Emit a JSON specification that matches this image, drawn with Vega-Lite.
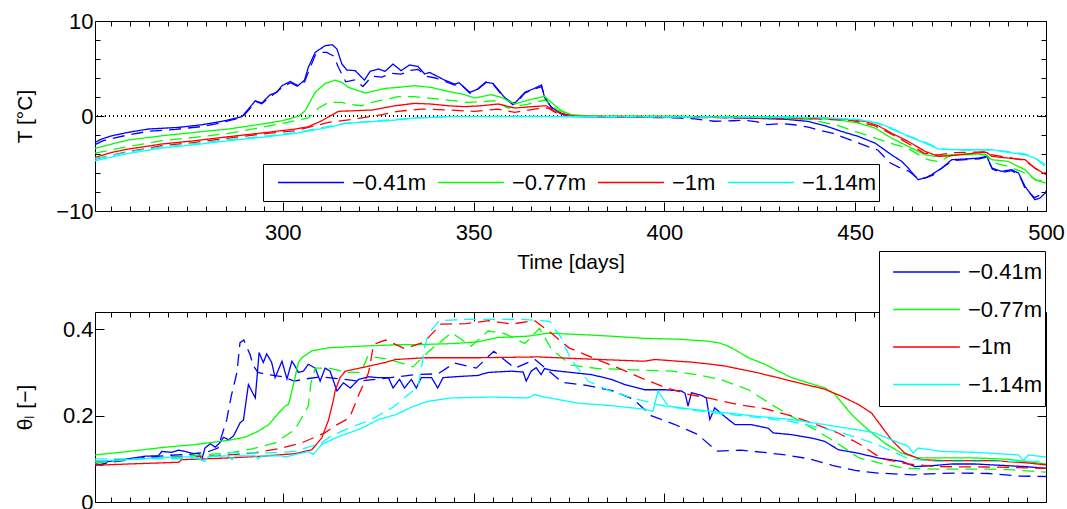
{
  "$schema": "https://vega.github.io/schema/vega-lite/v6.json",
  "background": "white",
  "padding": {"left": 14, "top": 10, "right": 0, "bottom": 0},
  "bounds": "flush",
  "spacing": 101,
  "config": {
    "font": "Liberation Sans",
    "view": {"stroke": null},
    "axis": {
      "grid": false, "domainColor": "#000", "domainWidth": 1, "tickColor": "#000", "tickWidth": 1,
      "labelColor": "#000", "labelFont": "Liberation Sans", "labelFontSize": 22,
      "titleFont": "Liberation Sans", "titleFontSize": 21, "titleFontWeight": "normal", "titleColor": "#000",
      "labelOverlap": false, "labelFlush": false, "labelBound": false
    },
    "legend": {
      "labelFont": "Liberation Sans", "labelFontSize": 22, "labelColor": "#000",
      "strokeColor": "#000", "fillColor": "white", "symbolType": "stroke", "symbolStrokeWidth": 1.3,
      "padding": 3, "labelLimit": 400
    }
  },
  "resolve": {
    "scale": {"color": "independent", "strokeDash": "independent"},
    "legend": {"color": "independent", "strokeDash": "independent"}
  },
  "datasets": {
    "temp": [
      {"day":250.8,"val":-2.78,"depth":"−0.41m","run":"obs"},{"day":252.5,"val":-2.43,"depth":"−0.41m","run":"obs"},{"day":255.2,"val":-2.08,"depth":"−0.41m","run":"obs"},{"day":259.5,"val":-1.72,"depth":"−0.41m","run":"obs"},{"day":264.8,"val":-1.37,"depth":"−0.41m","run":"obs"},{"day":272.7,"val":-1.2,"depth":"−0.41m","run":"obs"},{"day":278.8,"val":-0.92,"depth":"−0.41m","run":"obs"},{"day":284,"val":-0.57,"depth":"−0.41m","run":"obs"},{"day":289.3,"val":-0.07,"depth":"−0.41m","run":"obs"},{"day":291,"val":0.73,"depth":"−0.41m","run":"obs"},{"day":292.8,"val":1.61,"depth":"−0.41m","run":"obs"},{"day":294.5,"val":1.36,"depth":"−0.41m","run":"obs"},{"day":296.7,"val":2.24,"depth":"−0.41m","run":"obs"},{"day":298.4,"val":2.49,"depth":"−0.41m","run":"obs"},{"day":299.8,"val":3.19,"depth":"−0.41m","run":"obs"},{"day":302,"val":3.64,"depth":"−0.41m","run":"obs"},{"day":304,"val":3.19,"depth":"−0.41m","run":"obs"},{"day":305.7,"val":3.78,"depth":"−0.41m","run":"obs"},{"day":306.7,"val":5.12,"depth":"−0.41m","run":"obs"},{"day":308.5,"val":6.7,"depth":"−0.41m","run":"obs"},{"day":311.1,"val":7.4,"depth":"−0.41m","run":"obs"},{"day":313,"val":7.5,"depth":"−0.41m","run":"obs"},{"day":314.2,"val":7.05,"depth":"−0.41m","run":"obs"},{"day":315.5,"val":5.47,"depth":"−0.41m","run":"obs"},{"day":316.8,"val":4.84,"depth":"−0.41m","run":"obs"},{"day":319,"val":4.77,"depth":"−0.41m","run":"obs"},{"day":321.4,"val":3.78,"depth":"−0.41m","run":"obs"},{"day":322.9,"val":4.7,"depth":"−0.41m","run":"obs"},{"day":325.1,"val":4.95,"depth":"−0.41m","run":"obs"},{"day":326.8,"val":4.7,"depth":"−0.41m","run":"obs"},{"day":328.9,"val":5.47,"depth":"−0.41m","run":"obs"},{"day":331,"val":4.77,"depth":"−0.41m","run":"obs"},{"day":333.2,"val":5.37,"depth":"−0.41m","run":"obs"},{"day":335.4,"val":5.22,"depth":"−0.41m","run":"obs"},{"day":337.2,"val":4.42,"depth":"−0.41m","run":"obs"},{"day":338.5,"val":4.59,"depth":"−0.41m","run":"obs"},{"day":342.4,"val":3.78,"depth":"−0.41m","run":"obs"},{"day":345,"val":3.36,"depth":"−0.41m","run":"obs"},{"day":346.2,"val":3.5,"depth":"−0.41m","run":"obs"},{"day":349,"val":2.49,"depth":"−0.41m","run":"obs"},{"day":351.2,"val":2.84,"depth":"−0.41m","run":"obs"},{"day":353.3,"val":3.54,"depth":"−0.41m","run":"obs"},{"day":355.1,"val":3.43,"depth":"−0.41m","run":"obs"},{"day":358.1,"val":1.96,"depth":"−0.41m","run":"obs"},{"day":360.3,"val":1.33,"depth":"−0.41m","run":"obs"},{"day":361.2,"val":1.5,"depth":"−0.41m","run":"obs"},{"day":363.4,"val":2.49,"depth":"−0.41m","run":"obs"},{"day":365.6,"val":2.84,"depth":"−0.41m","run":"obs"},{"day":367.8,"val":3.26,"depth":"−0.41m","run":"obs"},{"day":368.6,"val":1.96,"depth":"−0.41m","run":"obs"},{"day":370.4,"val":0.91,"depth":"−0.41m","run":"obs"},{"day":373,"val":0.28,"depth":"−0.41m","run":"obs"},{"day":375.6,"val":0.03,"depth":"−0.41m","run":"obs"},{"day":380,"val":-0.05,"depth":"−0.41m","run":"obs"},{"day":390,"val":-0.08,"depth":"−0.41m","run":"obs"},{"day":400,"val":-0.1,"depth":"−0.41m","run":"obs"},{"day":407,"val":-0.1,"depth":"−0.41m","run":"obs"},{"day":415,"val":-0.15,"depth":"−0.41m","run":"obs"},{"day":424.6,"val":-0.25,"depth":"−0.41m","run":"obs"},{"day":432,"val":-0.35,"depth":"−0.41m","run":"obs"},{"day":437.7,"val":-0.57,"depth":"−0.41m","run":"obs"},{"day":442.1,"val":-1.02,"depth":"−0.41m","run":"obs"},{"day":446.4,"val":-1.62,"depth":"−0.41m","run":"obs"},{"day":450.8,"val":-2.15,"depth":"−0.41m","run":"obs"},{"day":455.2,"val":-2.85,"depth":"−0.41m","run":"obs"},{"day":459.5,"val":-4.08,"depth":"−0.41m","run":"obs"},{"day":462.2,"val":-4.78,"depth":"−0.41m","run":"obs"},{"day":463.9,"val":-5.48,"depth":"−0.41m","run":"obs"},{"day":466.5,"val":-6.71,"depth":"−0.41m","run":"obs"},{"day":468.3,"val":-6.53,"depth":"−0.41m","run":"obs"},{"day":470,"val":-6.18,"depth":"−0.41m","run":"obs"},{"day":472.7,"val":-5.48,"depth":"−0.41m","run":"obs"},{"day":475.3,"val":-4.6,"depth":"−0.41m","run":"obs"},{"day":478.8,"val":-4.53,"depth":"−0.41m","run":"obs"},{"day":482.3,"val":-4.43,"depth":"−0.41m","run":"obs"},{"day":484.5,"val":-4.25,"depth":"−0.41m","run":"obs"},{"day":485.8,"val":-5.48,"depth":"−0.41m","run":"obs"},{"day":488.4,"val":-5.83,"depth":"−0.41m","run":"obs"},{"day":491,"val":-5.65,"depth":"−0.41m","run":"obs"},{"day":492.8,"val":-6.0,"depth":"−0.41m","run":"obs"},{"day":494.5,"val":-7.41,"depth":"−0.41m","run":"obs"},{"day":497.1,"val":-8.81,"depth":"−0.41m","run":"obs"},{"day":498.4,"val":-8.64,"depth":"−0.41m","run":"obs"},{"day":500,"val":-8.04,"depth":"−0.41m","run":"obs"},

      {"day":250.8,"val":-3.02,"depth":"−0.41m","run":"sim"},{"day":253,"val":-2.6,"depth":"−0.41m","run":"sim"},{"day":256,"val":-2.3,"depth":"−0.41m","run":"sim"},{"day":260,"val":-1.95,"depth":"−0.41m","run":"sim"},{"day":265,"val":-1.6,"depth":"−0.41m","run":"sim"},{"day":272,"val":-1.4,"depth":"−0.41m","run":"sim"},{"day":279,"val":-1.1,"depth":"−0.41m","run":"sim"},{"day":284,"val":-0.7,"depth":"−0.41m","run":"sim"},{"day":289.3,"val":-0.15,"depth":"−0.41m","run":"sim"},{"day":291,"val":0.6,"depth":"−0.41m","run":"sim"},{"day":293,"val":1.5,"depth":"−0.41m","run":"sim"},{"day":294.5,"val":1.3,"depth":"−0.41m","run":"sim"},{"day":297,"val":2.1,"depth":"−0.41m","run":"sim"},{"day":299.8,"val":3.0,"depth":"−0.41m","run":"sim"},{"day":302,"val":3.5,"depth":"−0.41m","run":"sim"},{"day":304,"val":3.1,"depth":"−0.41m","run":"sim"},{"day":305.7,"val":3.6,"depth":"−0.41m","run":"sim"},{"day":307,"val":4.9,"depth":"−0.41m","run":"sim"},{"day":308.5,"val":6.4,"depth":"−0.41m","run":"sim"},{"day":310,"val":6.7,"depth":"−0.41m","run":"sim"},{"day":311.5,"val":6.7,"depth":"−0.41m","run":"sim"},{"day":313.4,"val":6.3,"depth":"−0.41m","run":"sim"},{"day":314.6,"val":5.1,"depth":"−0.41m","run":"sim"},{"day":316.5,"val":3.6,"depth":"−0.41m","run":"sim"},{"day":318.8,"val":3.8,"depth":"−0.41m","run":"sim"},{"day":321,"val":3.1,"depth":"−0.41m","run":"sim"},{"day":323.4,"val":4.2,"depth":"−0.41m","run":"sim"},{"day":326,"val":4.1,"depth":"−0.41m","run":"sim"},{"day":328.5,"val":4.5,"depth":"−0.41m","run":"sim"},{"day":331,"val":4.4,"depth":"−0.41m","run":"sim"},{"day":333.5,"val":4.8,"depth":"−0.41m","run":"sim"},{"day":335.5,"val":4.9,"depth":"−0.41m","run":"sim"},{"day":337.5,"val":4.2,"depth":"−0.41m","run":"sim"},{"day":340,"val":4.0,"depth":"−0.41m","run":"sim"},{"day":342.4,"val":3.65,"depth":"−0.41m","run":"sim"},{"day":345,"val":3.25,"depth":"−0.41m","run":"sim"},{"day":346.5,"val":3.4,"depth":"−0.41m","run":"sim"},{"day":349,"val":2.4,"depth":"−0.41m","run":"sim"},{"day":351.2,"val":2.9,"depth":"−0.41m","run":"sim"},{"day":353.3,"val":3.6,"depth":"−0.41m","run":"sim"},{"day":355.1,"val":3.35,"depth":"−0.41m","run":"sim"},{"day":358.1,"val":1.9,"depth":"−0.41m","run":"sim"},{"day":360.3,"val":1.2,"depth":"−0.41m","run":"sim"},{"day":361.5,"val":1.5,"depth":"−0.41m","run":"sim"},{"day":363.4,"val":2.4,"depth":"−0.41m","run":"sim"},{"day":365.6,"val":2.8,"depth":"−0.41m","run":"sim"},{"day":367.8,"val":3.1,"depth":"−0.41m","run":"sim"},{"day":368.8,"val":1.8,"depth":"−0.41m","run":"sim"},{"day":370.6,"val":0.8,"depth":"−0.41m","run":"sim"},{"day":373,"val":0.2,"depth":"−0.41m","run":"sim"},{"day":376,"val":-0.05,"depth":"−0.41m","run":"sim"},{"day":385,"val":-0.1,"depth":"−0.41m","run":"sim"},{"day":395,"val":-0.15,"depth":"−0.41m","run":"sim"},{"day":403,"val":-0.2,"depth":"−0.41m","run":"sim"},{"day":408,"val":-0.3,"depth":"−0.41m","run":"sim"},{"day":413,"val":-0.55,"depth":"−0.41m","run":"sim"},{"day":418,"val":-0.5,"depth":"−0.41m","run":"sim"},{"day":421,"val":-0.45,"depth":"−0.41m","run":"sim"},{"day":424,"val":-0.6,"depth":"−0.41m","run":"sim"},{"day":427,"val":-0.9,"depth":"−0.41m","run":"sim"},{"day":431,"val":-0.8,"depth":"−0.41m","run":"sim"},{"day":434,"val":-0.92,"depth":"−0.41m","run":"sim"},{"day":438,"val":-1.2,"depth":"−0.41m","run":"sim"},{"day":440.5,"val":-1.5,"depth":"−0.41m","run":"sim"},{"day":444,"val":-1.8,"depth":"−0.41m","run":"sim"},{"day":446.6,"val":-2.2,"depth":"−0.41m","run":"sim"},{"day":450,"val":-2.7,"depth":"−0.41m","run":"sim"},{"day":453.2,"val":-3.2,"depth":"−0.41m","run":"sim"},{"day":456,"val":-3.6,"depth":"−0.41m","run":"sim"},{"day":459,"val":-4.9,"depth":"−0.41m","run":"sim"},{"day":461.5,"val":-5.4,"depth":"−0.41m","run":"sim"},{"day":464,"val":-5.8,"depth":"−0.41m","run":"sim"},{"day":466.5,"val":-6.6,"depth":"−0.41m","run":"sim"},{"day":468.5,"val":-6.5,"depth":"−0.41m","run":"sim"},{"day":470.5,"val":-6.2,"depth":"−0.41m","run":"sim"},{"day":473,"val":-5.4,"depth":"−0.41m","run":"sim"},{"day":475.5,"val":-4.7,"depth":"−0.41m","run":"sim"},{"day":479,"val":-4.6,"depth":"−0.41m","run":"sim"},{"day":482.5,"val":-4.5,"depth":"−0.41m","run":"sim"},{"day":484.5,"val":-4.3,"depth":"−0.41m","run":"sim"},{"day":486,"val":-5.6,"depth":"−0.41m","run":"sim"},{"day":488.5,"val":-5.95,"depth":"−0.41m","run":"sim"},{"day":491,"val":-5.75,"depth":"−0.41m","run":"sim"},{"day":493,"val":-6.2,"depth":"−0.41m","run":"sim"},{"day":494.5,"val":-7.6,"depth":"−0.41m","run":"sim"},{"day":497,"val":-8.6,"depth":"−0.41m","run":"sim"},{"day":498.5,"val":-8.3,"depth":"−0.41m","run":"sim"},{"day":500,"val":-7.9,"depth":"−0.41m","run":"sim"},

      {"day":250.8,"val":-3.41,"depth":"−0.77m","run":"obs"},{"day":255.2,"val":-2.95,"depth":"−0.77m","run":"obs"},{"day":259.5,"val":-2.53,"depth":"−0.77m","run":"obs"},{"day":268.3,"val":-2.08,"depth":"−0.77m","run":"obs"},{"day":277,"val":-1.72,"depth":"−0.77m","run":"obs"},{"day":285.8,"val":-1.37,"depth":"−0.77m","run":"obs"},{"day":294.5,"val":-0.85,"depth":"−0.77m","run":"obs"},{"day":299.8,"val":-0.5,"depth":"−0.77m","run":"obs"},{"day":304.1,"val":-0.04,"depth":"−0.77m","run":"obs"},{"day":305.9,"val":0.56,"depth":"−0.77m","run":"obs"},{"day":308.5,"val":2.49,"depth":"−0.77m","run":"obs"},{"day":311.1,"val":3.43,"depth":"−0.77m","run":"obs"},{"day":313.7,"val":3.78,"depth":"−0.77m","run":"obs"},{"day":315.5,"val":3.54,"depth":"−0.77m","run":"obs"},{"day":317.2,"val":3.01,"depth":"−0.77m","run":"obs"},{"day":319.9,"val":2.66,"depth":"−0.77m","run":"obs"},{"day":321.6,"val":2.42,"depth":"−0.77m","run":"obs"},{"day":324.2,"val":2.66,"depth":"−0.77m","run":"obs"},{"day":326.9,"val":2.91,"depth":"−0.77m","run":"obs"},{"day":330.2,"val":3.01,"depth":"−0.77m","run":"obs"},{"day":334.5,"val":3.19,"depth":"−0.77m","run":"obs"},{"day":338.9,"val":3.01,"depth":"−0.77m","run":"obs"},{"day":343.3,"val":2.59,"depth":"−0.77m","run":"obs"},{"day":347.7,"val":2.24,"depth":"−0.77m","run":"obs"},{"day":350.3,"val":1.89,"depth":"−0.77m","run":"obs"},{"day":354.6,"val":2.24,"depth":"−0.77m","run":"obs"},{"day":357.3,"val":1.96,"depth":"−0.77m","run":"obs"},{"day":360.8,"val":1.26,"depth":"−0.77m","run":"obs"},{"day":364.3,"val":1.68,"depth":"−0.77m","run":"obs"},{"day":368.6,"val":2.07,"depth":"−0.77m","run":"obs"},{"day":370.4,"val":1.43,"depth":"−0.77m","run":"obs"},{"day":373,"val":0.56,"depth":"−0.77m","run":"obs"},{"day":375.6,"val":0.14,"depth":"−0.77m","run":"obs"},{"day":380,"val":0,"depth":"−0.77m","run":"obs"},{"day":400,"val":-0.02,"depth":"−0.77m","run":"obs"},{"day":420,"val":-0.05,"depth":"−0.77m","run":"obs"},{"day":433.3,"val":-0.1,"depth":"−0.77m","run":"obs"},{"day":442,"val":-0.32,"depth":"−0.77m","run":"obs"},{"day":446.4,"val":-0.46,"depth":"−0.77m","run":"obs"},{"day":450.8,"val":-0.74,"depth":"−0.77m","run":"obs"},{"day":455.2,"val":-1.27,"depth":"−0.77m","run":"obs"},{"day":459.5,"val":-2.32,"depth":"−0.77m","run":"obs"},{"day":463.9,"val":-3.2,"depth":"−0.77m","run":"obs"},{"day":468.3,"val":-4.08,"depth":"−0.77m","run":"obs"},{"day":470.9,"val":-4.25,"depth":"−0.77m","run":"obs"},{"day":475.3,"val":-4.08,"depth":"−0.77m","run":"obs"},{"day":481.4,"val":-4.0,"depth":"−0.77m","run":"obs"},{"day":484,"val":-4.08,"depth":"−0.77m","run":"obs"},{"day":485.8,"val":-4.6,"depth":"−0.77m","run":"obs"},{"day":490.1,"val":-4.78,"depth":"−0.77m","run":"obs"},{"day":494.5,"val":-5.65,"depth":"−0.77m","run":"obs"},{"day":497.1,"val":-6.71,"depth":"−0.77m","run":"obs"},{"day":500,"val":-7.06,"depth":"−0.77m","run":"obs"},

      {"day":250.8,"val":-3.9,"depth":"−0.77m","run":"sim"},{"day":259.5,"val":-3.23,"depth":"−0.77m","run":"sim"},{"day":268.3,"val":-2.6,"depth":"−0.77m","run":"sim"},{"day":277,"val":-2.25,"depth":"−0.77m","run":"sim"},{"day":285.8,"val":-1.83,"depth":"−0.77m","run":"sim"},{"day":294.5,"val":-1.2,"depth":"−0.77m","run":"sim"},{"day":303.3,"val":-0.5,"depth":"−0.77m","run":"sim"},{"day":306.7,"val":-0.2,"depth":"−0.77m","run":"sim"},{"day":309.4,"val":0.84,"depth":"−0.77m","run":"sim"},{"day":312,"val":1.43,"depth":"−0.77m","run":"sim"},{"day":315.5,"val":1.43,"depth":"−0.77m","run":"sim"},{"day":317.2,"val":1.26,"depth":"−0.77m","run":"sim"},{"day":320.7,"val":1.08,"depth":"−0.77m","run":"sim"},{"day":323.4,"val":1.43,"depth":"−0.77m","run":"sim"},{"day":328.6,"val":1.89,"depth":"−0.77m","run":"sim"},{"day":330.2,"val":2.03,"depth":"−0.77m","run":"sim"},{"day":334.5,"val":2.03,"depth":"−0.77m","run":"sim"},{"day":343.3,"val":1.68,"depth":"−0.77m","run":"sim"},{"day":348.5,"val":1.43,"depth":"−0.77m","run":"sim"},{"day":352,"val":1.5,"depth":"−0.77m","run":"sim"},{"day":355.5,"val":1.61,"depth":"−0.77m","run":"sim"},{"day":359,"val":0.84,"depth":"−0.77m","run":"sim"},{"day":364.3,"val":1.26,"depth":"−0.77m","run":"sim"},{"day":368.6,"val":1.68,"depth":"−0.77m","run":"sim"},{"day":372,"val":0.63,"depth":"−0.77m","run":"sim"},{"day":375.6,"val":0.1,"depth":"−0.77m","run":"sim"},{"day":380,"val":-0.02,"depth":"−0.77m","run":"sim"},{"day":400,"val":-0.05,"depth":"−0.77m","run":"sim"},{"day":420,"val":-0.1,"depth":"−0.77m","run":"sim"},{"day":438,"val":-0.35,"depth":"−0.77m","run":"sim"},{"day":445.6,"val":-1.02,"depth":"−0.77m","run":"sim"},{"day":452.6,"val":-1.97,"depth":"−0.77m","run":"sim"},{"day":457.8,"val":-2.67,"depth":"−0.77m","run":"sim"},{"day":463.9,"val":-3.44,"depth":"−0.77m","run":"sim"},{"day":469,"val":-4.6,"depth":"−0.77m","run":"sim"},{"day":472,"val":-4.8,"depth":"−0.77m","run":"sim"},{"day":475.3,"val":-4.1,"depth":"−0.77m","run":"sim"},{"day":481.4,"val":-4.05,"depth":"−0.77m","run":"sim"},{"day":484.5,"val":-4.1,"depth":"−0.77m","run":"sim"},{"day":486,"val":-4.9,"depth":"−0.77m","run":"sim"},{"day":490.1,"val":-5.3,"depth":"−0.77m","run":"sim"},{"day":494.5,"val":-6.0,"depth":"−0.77m","run":"sim"},{"day":497.5,"val":-6.75,"depth":"−0.77m","run":"sim"},{"day":500,"val":-6.9,"depth":"−0.77m","run":"sim"},

      {"day":250.8,"val":-4.36,"depth":"−1m","run":"obs"},{"day":255.2,"val":-3.83,"depth":"−1m","run":"obs"},{"day":259.5,"val":-3.48,"depth":"−1m","run":"obs"},{"day":268.3,"val":-2.95,"depth":"−1m","run":"obs"},{"day":277,"val":-2.6,"depth":"−1m","run":"obs"},{"day":285.8,"val":-2.18,"depth":"−1m","run":"obs"},{"day":294.5,"val":-1.79,"depth":"−1m","run":"obs"},{"day":303.3,"val":-1.37,"depth":"−1m","run":"obs"},{"day":306.7,"val":-1.13,"depth":"−1m","run":"obs"},{"day":310.2,"val":-0.5,"depth":"−1m","run":"obs"},{"day":314.6,"val":0.49,"depth":"−1m","run":"obs"},{"day":319,"val":0.56,"depth":"−1m","run":"obs"},{"day":323.4,"val":0.63,"depth":"−1m","run":"obs"},{"day":329.5,"val":1.08,"depth":"−1m","run":"obs"},{"day":334.5,"val":1.33,"depth":"−1m","run":"obs"},{"day":338.9,"val":1.26,"depth":"−1m","run":"obs"},{"day":343.3,"val":1.08,"depth":"−1m","run":"obs"},{"day":347.7,"val":0.98,"depth":"−1m","run":"obs"},{"day":352,"val":1.08,"depth":"−1m","run":"obs"},{"day":356.4,"val":1.26,"depth":"−1m","run":"obs"},{"day":360.8,"val":0.84,"depth":"−1m","run":"obs"},{"day":365.1,"val":0.98,"depth":"−1m","run":"obs"},{"day":369,"val":1.08,"depth":"−1m","run":"obs"},{"day":371.3,"val":0.49,"depth":"−1m","run":"obs"},{"day":374.8,"val":0.07,"depth":"−1m","run":"obs"},{"day":378.3,"val":-0.04,"depth":"−1m","run":"obs"},{"day":400,"val":-0.1,"depth":"−1m","run":"obs"},{"day":420,"val":-0.15,"depth":"−1m","run":"obs"},{"day":442,"val":-0.21,"depth":"−1m","run":"obs"},{"day":449,"val":-0.39,"depth":"−1m","run":"obs"},{"day":452.6,"val":-0.57,"depth":"−1m","run":"obs"},{"day":456,"val":-1.02,"depth":"−1m","run":"obs"},{"day":459.5,"val":-1.8,"depth":"−1m","run":"obs"},{"day":463.9,"val":-2.67,"depth":"−1m","run":"obs"},{"day":468.3,"val":-3.72,"depth":"−1m","run":"obs"},{"day":471.8,"val":-4.25,"depth":"−1m","run":"obs"},{"day":475.3,"val":-4.18,"depth":"−1m","run":"obs"},{"day":481.4,"val":-3.9,"depth":"−1m","run":"obs"},{"day":484.5,"val":-3.83,"depth":"−1m","run":"obs"},{"day":485.8,"val":-4.25,"depth":"−1m","run":"obs"},{"day":490.1,"val":-4.43,"depth":"−1m","run":"obs"},{"day":494.5,"val":-4.6,"depth":"−1m","run":"obs"},{"day":497.1,"val":-5.48,"depth":"−1m","run":"obs"},{"day":500,"val":-6.18,"depth":"−1m","run":"obs"},

      {"day":250.8,"val":-4.53,"depth":"−1m","run":"sim"},{"day":259.5,"val":-3.73,"depth":"−1m","run":"sim"},{"day":268.3,"val":-3.13,"depth":"−1m","run":"sim"},{"day":277,"val":-2.78,"depth":"−1m","run":"sim"},{"day":285.8,"val":-2.32,"depth":"−1m","run":"sim"},{"day":294.5,"val":-1.9,"depth":"−1m","run":"sim"},{"day":303.3,"val":-1.55,"depth":"−1m","run":"sim"},{"day":312,"val":-0.67,"depth":"−1m","run":"sim"},{"day":319,"val":-0.32,"depth":"−1m","run":"sim"},{"day":326,"val":0.14,"depth":"−1m","run":"sim"},{"day":330.2,"val":0.49,"depth":"−1m","run":"sim"},{"day":336.3,"val":0.73,"depth":"−1m","run":"sim"},{"day":343.3,"val":0.63,"depth":"−1m","run":"sim"},{"day":350.3,"val":0.49,"depth":"−1m","run":"sim"},{"day":356.4,"val":0.73,"depth":"−1m","run":"sim"},{"day":360.8,"val":0.38,"depth":"−1m","run":"sim"},{"day":366,"val":0.73,"depth":"−1m","run":"sim"},{"day":369.5,"val":0.84,"depth":"−1m","run":"sim"},{"day":372.1,"val":0.21,"depth":"−1m","run":"sim"},{"day":375.6,"val":-0.07,"depth":"−1m","run":"sim"},{"day":400,"val":-0.12,"depth":"−1m","run":"sim"},{"day":440,"val":-0.3,"depth":"−1m","run":"sim"},{"day":449,"val":-0.45,"depth":"−1m","run":"sim"},{"day":455,"val":-1.0,"depth":"−1m","run":"sim"},{"day":459,"val":-1.8,"depth":"−1m","run":"sim"},{"day":463.5,"val":-2.8,"depth":"−1m","run":"sim"},{"day":468,"val":-3.9,"depth":"−1m","run":"sim"},{"day":471.8,"val":-4.1,"depth":"−1m","run":"sim"},{"day":476,"val":-3.85,"depth":"−1m","run":"sim"},{"day":482,"val":-3.8,"depth":"−1m","run":"sim"},{"day":484.5,"val":-3.75,"depth":"−1m","run":"sim"},{"day":486,"val":-4.1,"depth":"−1m","run":"sim"},{"day":490,"val":-4.35,"depth":"−1m","run":"sim"},{"day":494.5,"val":-4.7,"depth":"−1m","run":"sim"},{"day":497.5,"val":-5.6,"depth":"−1m","run":"sim"},{"day":500,"val":-6.0,"depth":"−1m","run":"sim"},

      {"day":250.8,"val":-4.71,"depth":"−1.14m","run":"obs"},{"day":259.5,"val":-3.94,"depth":"−1.14m","run":"obs"},{"day":268.3,"val":-3.37,"depth":"−1.14m","run":"obs"},{"day":277,"val":-3.02,"depth":"−1.14m","run":"obs"},{"day":285.8,"val":-2.6,"depth":"−1.14m","run":"obs"},{"day":294.5,"val":-2.25,"depth":"−1.14m","run":"obs"},{"day":303.3,"val":-1.83,"depth":"−1.14m","run":"obs"},{"day":312,"val":-1.2,"depth":"−1.14m","run":"obs"},{"day":316.4,"val":-0.78,"depth":"−1.14m","run":"obs"},{"day":320.7,"val":-0.67,"depth":"−1.14m","run":"obs"},{"day":329.5,"val":-0.43,"depth":"−1.14m","run":"obs"},{"day":334.5,"val":-0.22,"depth":"−1.14m","run":"obs"},{"day":343.3,"val":-0.07,"depth":"−1.14m","run":"obs"},{"day":360,"val":-0.07,"depth":"−1.14m","run":"obs"},{"day":380,"val":-0.08,"depth":"−1.14m","run":"obs"},{"day":400,"val":-0.1,"depth":"−1.14m","run":"obs"},{"day":420,"val":-0.12,"depth":"−1.14m","run":"obs"},{"day":440,"val":-0.18,"depth":"−1.14m","run":"obs"},{"day":450.8,"val":-0.39,"depth":"−1.14m","run":"obs"},{"day":456,"val":-0.74,"depth":"−1.14m","run":"obs"},{"day":459.5,"val":-1.27,"depth":"−1.14m","run":"obs"},{"day":463.9,"val":-2.15,"depth":"−1.14m","run":"obs"},{"day":468.3,"val":-2.85,"depth":"−1.14m","run":"obs"},{"day":471.8,"val":-3.48,"depth":"−1.14m","run":"obs"},{"day":477,"val":-3.55,"depth":"−1.14m","run":"obs"},{"day":485.8,"val":-3.55,"depth":"−1.14m","run":"obs"},{"day":490.1,"val":-3.83,"depth":"−1.14m","run":"obs"},{"day":494.5,"val":-4.08,"depth":"−1.14m","run":"obs"},{"day":497.1,"val":-4.43,"depth":"−1.14m","run":"obs"},{"day":500,"val":-5.13,"depth":"−1.14m","run":"obs"},

      {"day":250.8,"val":-4.5,"depth":"−1.14m","run":"sim"},{"day":259.5,"val":-3.8,"depth":"−1.14m","run":"sim"},{"day":268.3,"val":-3.25,"depth":"−1.14m","run":"sim"},{"day":277,"val":-2.9,"depth":"−1.14m","run":"sim"},{"day":285.8,"val":-2.5,"depth":"−1.14m","run":"sim"},{"day":294.5,"val":-2.15,"depth":"−1.14m","run":"sim"},{"day":303.3,"val":-1.75,"depth":"−1.14m","run":"sim"},{"day":312,"val":-1.1,"depth":"−1.14m","run":"sim"},{"day":316.4,"val":-0.75,"depth":"−1.14m","run":"sim"},{"day":325,"val":-0.5,"depth":"−1.14m","run":"sim"},{"day":335,"val":-0.2,"depth":"−1.14m","run":"sim"},{"day":345,"val":-0.05,"depth":"−1.14m","run":"sim"},{"day":360,"val":-0.02,"depth":"−1.14m","run":"sim"},{"day":380,"val":-0.05,"depth":"−1.14m","run":"sim"},{"day":400,"val":-0.08,"depth":"−1.14m","run":"sim"},{"day":420,"val":-0.1,"depth":"−1.14m","run":"sim"},{"day":440,"val":-0.15,"depth":"−1.14m","run":"sim"},{"day":450.8,"val":-0.35,"depth":"−1.14m","run":"sim"},{"day":456,"val":-0.8,"depth":"−1.14m","run":"sim"},{"day":460,"val":-1.45,"depth":"−1.14m","run":"sim"},{"day":464,"val":-2.1,"depth":"−1.14m","run":"sim"},{"day":468.3,"val":-2.75,"depth":"−1.14m","run":"sim"},{"day":472,"val":-3.45,"depth":"−1.14m","run":"sim"},{"day":477,"val":-3.6,"depth":"−1.14m","run":"sim"},{"day":485.8,"val":-3.55,"depth":"−1.14m","run":"sim"},{"day":490.1,"val":-3.75,"depth":"−1.14m","run":"sim"},{"day":494.5,"val":-4.0,"depth":"−1.14m","run":"sim"},{"day":497.5,"val":-4.5,"depth":"−1.14m","run":"sim"},{"day":500,"val":-5.4,"depth":"−1.14m","run":"sim"}
    ],
    "theta": [
      {"day":250.8,"val":0.09,"depth":"−0.41m","run":"obs"},{"day":252.5,"val":0.085,"depth":"−0.41m","run":"obs"},{"day":254.3,"val":0.094,"depth":"−0.41m","run":"obs"},{"day":259.5,"val":0.1,"depth":"−0.41m","run":"obs"},{"day":263.9,"val":0.106,"depth":"−0.41m","run":"obs"},{"day":267.4,"val":0.107,"depth":"−0.41m","run":"obs"},{"day":268.3,"val":0.117,"depth":"−0.41m","run":"obs"},{"day":270.9,"val":0.115,"depth":"−0.41m","run":"obs"},{"day":272.7,"val":0.12,"depth":"−0.41m","run":"obs"},{"day":274.4,"val":0.117,"depth":"−0.41m","run":"obs"},{"day":276.6,"val":0.112,"depth":"−0.41m","run":"obs"},{"day":277.9,"val":0.113,"depth":"−0.41m","run":"obs"},{"day":278.8,"val":0.098,"depth":"−0.41m","run":"obs"},{"day":279.6,"val":0.125,"depth":"−0.41m","run":"obs"},{"day":281,"val":0.135,"depth":"−0.41m","run":"obs"},{"day":282.3,"val":0.127,"depth":"−0.41m","run":"obs"},{"day":283.6,"val":0.138,"depth":"−0.41m","run":"obs"},{"day":284.5,"val":0.15,"depth":"−0.41m","run":"obs"},{"day":285.8,"val":0.144,"depth":"−0.41m","run":"obs"},{"day":287.1,"val":0.153,"depth":"−0.41m","run":"obs"},{"day":288.8,"val":0.183,"depth":"−0.41m","run":"obs"},{"day":289.7,"val":0.19,"depth":"−0.41m","run":"obs"},{"day":291,"val":0.272,"depth":"−0.41m","run":"obs"},{"day":292.8,"val":0.241,"depth":"−0.41m","run":"obs"},{"day":293.8,"val":0.346,"depth":"−0.41m","run":"obs"},{"day":294.9,"val":0.323,"depth":"−0.41m","run":"obs"},{"day":295.8,"val":0.343,"depth":"−0.41m","run":"obs"},{"day":297.1,"val":0.323,"depth":"−0.41m","run":"obs"},{"day":298,"val":0.288,"depth":"−0.41m","run":"obs"},{"day":299.8,"val":0.326,"depth":"−0.41m","run":"obs"},{"day":301.1,"val":0.285,"depth":"−0.41m","run":"obs"},{"day":302.4,"val":0.326,"depth":"−0.41m","run":"obs"},{"day":303.2,"val":0.315,"depth":"−0.41m","run":"obs"},{"day":304.1,"val":0.3,"depth":"−0.41m","run":"obs"},{"day":305.4,"val":0.303,"depth":"−0.41m","run":"obs"},{"day":306.7,"val":0.319,"depth":"−0.41m","run":"obs"},{"day":308.5,"val":0.31,"depth":"−0.41m","run":"obs"},{"day":309.8,"val":0.28,"depth":"−0.41m","run":"obs"},{"day":311.1,"val":0.31,"depth":"−0.41m","run":"obs"},{"day":312.4,"val":0.303,"depth":"−0.41m","run":"obs"},{"day":313.3,"val":0.28,"depth":"−0.41m","run":"obs"},{"day":314.2,"val":0.257,"depth":"−0.41m","run":"obs"},{"day":315.9,"val":0.276,"depth":"−0.41m","run":"obs"},{"day":317.7,"val":0.264,"depth":"−0.41m","run":"obs"},{"day":319.9,"val":0.284,"depth":"−0.41m","run":"obs"},{"day":322.5,"val":0.29,"depth":"−0.41m","run":"obs"},{"day":325.1,"val":0.288,"depth":"−0.41m","run":"obs"},{"day":327.7,"val":0.288,"depth":"−0.41m","run":"obs"},{"day":328.9,"val":0.264,"depth":"−0.41m","run":"obs"},{"day":330.6,"val":0.284,"depth":"−0.41m","run":"obs"},{"day":331.9,"val":0.264,"depth":"−0.41m","run":"obs"},{"day":333.7,"val":0.284,"depth":"−0.41m","run":"obs"},{"day":335,"val":0.264,"depth":"−0.41m","run":"obs"},{"day":336.3,"val":0.288,"depth":"−0.41m","run":"obs"},{"day":339,"val":0.288,"depth":"−0.41m","run":"obs"},{"day":340.6,"val":0.264,"depth":"−0.41m","run":"obs"},{"day":342,"val":0.288,"depth":"−0.41m","run":"obs"},{"day":346.8,"val":0.291,"depth":"−0.41m","run":"obs"},{"day":351.1,"val":0.293,"depth":"−0.41m","run":"obs"},{"day":353.8,"val":0.3,"depth":"−0.41m","run":"obs"},{"day":359.9,"val":0.303,"depth":"−0.41m","run":"obs"},{"day":363,"val":0.301,"depth":"−0.41m","run":"obs"},{"day":363.8,"val":0.28,"depth":"−0.41m","run":"obs"},{"day":365.1,"val":0.303,"depth":"−0.41m","run":"obs"},{"day":366.4,"val":0.311,"depth":"−0.41m","run":"obs"},{"day":367.7,"val":0.295,"depth":"−0.41m","run":"obs"},{"day":368.6,"val":0.309,"depth":"−0.41m","run":"obs"},{"day":370.4,"val":0.305,"depth":"−0.41m","run":"obs"},{"day":375.6,"val":0.3,"depth":"−0.41m","run":"obs"},{"day":380.9,"val":0.295,"depth":"−0.41m","run":"obs"},{"day":386.1,"val":0.284,"depth":"−0.41m","run":"obs"},{"day":389.6,"val":0.272,"depth":"−0.41m","run":"obs"},{"day":394.8,"val":0.26,"depth":"−0.41m","run":"obs"},{"day":400.1,"val":0.26,"depth":"−0.41m","run":"obs"},{"day":404.5,"val":0.257,"depth":"−0.41m","run":"obs"},{"day":405.4,"val":0.252,"depth":"−0.41m","run":"obs"},{"day":406.2,"val":0.222,"depth":"−0.41m","run":"obs"},{"day":407.1,"val":0.253,"depth":"−0.41m","run":"obs"},{"day":409.7,"val":0.247,"depth":"−0.41m","run":"obs"},{"day":411,"val":0.241,"depth":"−0.41m","run":"obs"},{"day":411.9,"val":0.191,"depth":"−0.41m","run":"obs"},{"day":413.2,"val":0.218,"depth":"−0.41m","run":"obs"},{"day":415.8,"val":0.198,"depth":"−0.41m","run":"obs"},{"day":418.5,"val":0.179,"depth":"−0.41m","run":"obs"},{"day":422.8,"val":0.179,"depth":"−0.41m","run":"obs"},{"day":427.2,"val":0.171,"depth":"−0.41m","run":"obs"},{"day":428.5,"val":0.16,"depth":"−0.41m","run":"obs"},{"day":433.3,"val":0.156,"depth":"−0.41m","run":"obs"},{"day":438.6,"val":0.148,"depth":"−0.41m","run":"obs"},{"day":442.1,"val":0.14,"depth":"−0.41m","run":"obs"},{"day":445.6,"val":0.121,"depth":"−0.41m","run":"obs"},{"day":450.8,"val":0.113,"depth":"−0.41m","run":"obs"},{"day":456,"val":0.102,"depth":"−0.41m","run":"obs"},{"day":462.2,"val":0.094,"depth":"−0.41m","run":"obs"},{"day":465.7,"val":0.082,"depth":"−0.41m","run":"obs"},{"day":470,"val":0.084,"depth":"−0.41m","run":"obs"},{"day":475.3,"val":0.088,"depth":"−0.41m","run":"obs"},{"day":481.4,"val":0.088,"depth":"−0.41m","run":"obs"},{"day":485.8,"val":0.086,"depth":"−0.41m","run":"obs"},{"day":490.1,"val":0.084,"depth":"−0.41m","run":"obs"},{"day":494.5,"val":0.082,"depth":"−0.41m","run":"obs"},{"day":500,"val":0.078,"depth":"−0.41m","run":"obs"},

      {"day":250.8,"val":0.085,"depth":"−0.41m","run":"sim"},{"day":255,"val":0.092,"depth":"−0.41m","run":"sim"},{"day":260,"val":0.098,"depth":"−0.41m","run":"sim"},{"day":265,"val":0.104,"depth":"−0.41m","run":"sim"},{"day":270,"val":0.108,"depth":"−0.41m","run":"sim"},{"day":275,"val":0.11,"depth":"−0.41m","run":"sim"},{"day":280,"val":0.115,"depth":"−0.41m","run":"sim"},{"day":283,"val":0.125,"depth":"−0.41m","run":"sim"},{"day":285.3,"val":0.19,"depth":"−0.41m","run":"sim"},{"day":286.5,"val":0.245,"depth":"−0.41m","run":"sim"},{"day":288,"val":0.3,"depth":"−0.41m","run":"sim"},{"day":288.8,"val":0.369,"depth":"−0.41m","run":"sim"},{"day":289.8,"val":0.375,"depth":"−0.41m","run":"sim"},{"day":291.4,"val":0.342,"depth":"−0.41m","run":"sim"},{"day":292.3,"val":0.315,"depth":"−0.41m","run":"sim"},{"day":293.5,"val":0.3,"depth":"−0.41m","run":"sim"},{"day":296,"val":0.295,"depth":"−0.41m","run":"sim"},{"day":300,"val":0.29,"depth":"−0.41m","run":"sim"},{"day":303,"val":0.28,"depth":"−0.41m","run":"sim"},{"day":306,"val":0.285,"depth":"−0.41m","run":"sim"},{"day":310,"val":0.29,"depth":"−0.41m","run":"sim"},{"day":315,"val":0.285,"depth":"−0.41m","run":"sim"},{"day":320,"val":0.28,"depth":"−0.41m","run":"sim"},{"day":325.4,"val":0.285,"depth":"−0.41m","run":"sim"},{"day":330,"val":0.29,"depth":"−0.41m","run":"sim"},{"day":335,"val":0.295,"depth":"−0.41m","run":"sim"},{"day":340.7,"val":0.297,"depth":"−0.41m","run":"sim"},{"day":345,"val":0.322,"depth":"−0.41m","run":"sim"},{"day":350.7,"val":0.31,"depth":"−0.41m","run":"sim"},{"day":355.3,"val":0.349,"depth":"−0.41m","run":"sim"},{"day":360.8,"val":0.31,"depth":"−0.41m","run":"sim"},{"day":366.1,"val":0.33,"depth":"−0.41m","run":"sim"},{"day":373.3,"val":0.277,"depth":"−0.41m","run":"sim"},{"day":379.6,"val":0.27,"depth":"−0.41m","run":"sim"},{"day":386.3,"val":0.258,"depth":"−0.41m","run":"sim"},{"day":391.9,"val":0.238,"depth":"−0.41m","run":"sim"},{"day":396.5,"val":0.2,"depth":"−0.41m","run":"sim"},{"day":402.6,"val":0.18,"depth":"−0.41m","run":"sim"},{"day":408.6,"val":0.157,"depth":"−0.41m","run":"sim"},{"day":413.8,"val":0.118,"depth":"−0.41m","run":"sim"},{"day":420,"val":0.12,"depth":"−0.41m","run":"sim"},{"day":426,"val":0.115,"depth":"−0.41m","run":"sim"},{"day":431.7,"val":0.109,"depth":"−0.41m","run":"sim"},{"day":438,"val":0.1,"depth":"−0.41m","run":"sim"},{"day":444,"val":0.085,"depth":"−0.41m","run":"sim"},{"day":450,"val":0.073,"depth":"−0.41m","run":"sim"},{"day":456,"val":0.067,"depth":"−0.41m","run":"sim"},{"day":465,"val":0.063,"depth":"−0.41m","run":"sim"},{"day":471.5,"val":0.066,"depth":"−0.41m","run":"sim"},{"day":478,"val":0.067,"depth":"−0.41m","run":"sim"},{"day":485,"val":0.066,"depth":"−0.41m","run":"sim"},{"day":493,"val":0.06,"depth":"−0.41m","run":"sim"},{"day":500,"val":0.059,"depth":"−0.41m","run":"sim"},

      {"day":250.8,"val":0.109,"depth":"−0.77m","run":"obs"},{"day":259.5,"val":0.117,"depth":"−0.77m","run":"obs"},{"day":268.3,"val":0.126,"depth":"−0.77m","run":"obs"},{"day":277,"val":0.133,"depth":"−0.77m","run":"obs"},{"day":285.8,"val":0.143,"depth":"−0.77m","run":"obs"},{"day":290.1,"val":0.15,"depth":"−0.77m","run":"obs"},{"day":293.6,"val":0.164,"depth":"−0.77m","run":"obs"},{"day":296.3,"val":0.179,"depth":"−0.77m","run":"obs"},{"day":298.9,"val":0.206,"depth":"−0.77m","run":"obs"},{"day":300.6,"val":0.222,"depth":"−0.77m","run":"obs"},{"day":301.5,"val":0.226,"depth":"−0.77m","run":"obs"},{"day":302.4,"val":0.257,"depth":"−0.77m","run":"obs"},{"day":303.2,"val":0.288,"depth":"−0.77m","run":"obs"},{"day":304.1,"val":0.323,"depth":"−0.77m","run":"obs"},{"day":305,"val":0.334,"depth":"−0.77m","run":"obs"},{"day":307.6,"val":0.35,"depth":"−0.77m","run":"obs"},{"day":312,"val":0.357,"depth":"−0.77m","run":"obs"},{"day":320.7,"val":0.361,"depth":"−0.77m","run":"obs"},{"day":329.5,"val":0.364,"depth":"−0.77m","run":"obs"},{"day":337.3,"val":0.365,"depth":"−0.77m","run":"obs"},{"day":345,"val":0.367,"depth":"−0.77m","run":"obs"},{"day":351.1,"val":0.371,"depth":"−0.77m","run":"obs"},{"day":356.4,"val":0.381,"depth":"−0.77m","run":"obs"},{"day":364.2,"val":0.384,"depth":"−0.77m","run":"obs"},{"day":369.5,"val":0.391,"depth":"−0.77m","run":"obs"},{"day":377.4,"val":0.388,"depth":"−0.77m","run":"obs"},{"day":386.1,"val":0.384,"depth":"−0.77m","run":"obs"},{"day":394.8,"val":0.379,"depth":"−0.77m","run":"obs"},{"day":403.6,"val":0.377,"depth":"−0.77m","run":"obs"},{"day":410.6,"val":0.373,"depth":"−0.77m","run":"obs"},{"day":414.1,"val":0.369,"depth":"−0.77m","run":"obs"},{"day":416.7,"val":0.361,"depth":"−0.77m","run":"obs"},{"day":419,"val":0.35,"depth":"−0.77m","run":"obs"},{"day":422,"val":0.334,"depth":"−0.77m","run":"obs"},{"day":426.3,"val":0.319,"depth":"−0.77m","run":"obs"},{"day":433.3,"val":0.288,"depth":"−0.77m","run":"obs"},{"day":437.7,"val":0.276,"depth":"−0.77m","run":"obs"},{"day":442.1,"val":0.264,"depth":"−0.77m","run":"obs"},{"day":444.7,"val":0.249,"depth":"−0.77m","run":"obs"},{"day":449.1,"val":0.202,"depth":"−0.77m","run":"obs"},{"day":453.4,"val":0.167,"depth":"−0.77m","run":"obs"},{"day":457.8,"val":0.136,"depth":"−0.77m","run":"obs"},{"day":462.2,"val":0.113,"depth":"−0.77m","run":"obs"},{"day":466.5,"val":0.102,"depth":"−0.77m","run":"obs"},{"day":472.7,"val":0.102,"depth":"−0.77m","run":"obs"},{"day":481.4,"val":0.102,"depth":"−0.77m","run":"obs"},{"day":490.1,"val":0.099,"depth":"−0.77m","run":"obs"},{"day":494.5,"val":0.094,"depth":"−0.77m","run":"obs"},{"day":500,"val":0.088,"depth":"−0.77m","run":"obs"},

      {"day":250.8,"val":0.09,"depth":"−0.77m","run":"sim"},{"day":259.5,"val":0.098,"depth":"−0.77m","run":"sim"},{"day":272.7,"val":0.106,"depth":"−0.77m","run":"sim"},{"day":285.8,"val":0.113,"depth":"−0.77m","run":"sim"},{"day":291.9,"val":0.123,"depth":"−0.77m","run":"sim"},{"day":298,"val":0.137,"depth":"−0.77m","run":"sim"},{"day":303.2,"val":0.168,"depth":"−0.77m","run":"sim"},{"day":306.7,"val":0.222,"depth":"−0.77m","run":"sim"},{"day":307.4,"val":0.276,"depth":"−0.77m","run":"sim"},{"day":308.5,"val":0.31,"depth":"−0.77m","run":"sim"},{"day":312,"val":0.31,"depth":"−0.77m","run":"sim"},{"day":317.2,"val":0.3,"depth":"−0.77m","run":"sim"},{"day":320.5,"val":0.3,"depth":"−0.77m","run":"sim"},{"day":322.3,"val":0.338,"depth":"−0.77m","run":"sim"},{"day":328,"val":0.33,"depth":"−0.77m","run":"sim"},{"day":334.1,"val":0.313,"depth":"−0.77m","run":"sim"},{"day":338,"val":0.347,"depth":"−0.77m","run":"sim"},{"day":344.2,"val":0.392,"depth":"−0.77m","run":"sim"},{"day":349.4,"val":0.361,"depth":"−0.77m","run":"sim"},{"day":353.8,"val":0.396,"depth":"−0.77m","run":"sim"},{"day":358.1,"val":0.39,"depth":"−0.77m","run":"sim"},{"day":363.4,"val":0.367,"depth":"−0.77m","run":"sim"},{"day":367.3,"val":0.402,"depth":"−0.77m","run":"sim"},{"day":370.4,"val":0.354,"depth":"−0.77m","run":"sim"},{"day":375.6,"val":0.317,"depth":"−0.77m","run":"sim"},{"day":382.6,"val":0.309,"depth":"−0.77m","run":"sim"},{"day":388.7,"val":0.307,"depth":"−0.77m","run":"sim"},{"day":395.3,"val":0.305,"depth":"−0.77m","run":"sim"},{"day":402,"val":0.303,"depth":"−0.77m","run":"sim"},{"day":408.5,"val":0.295,"depth":"−0.77m","run":"sim"},{"day":415,"val":0.283,"depth":"−0.77m","run":"sim"},{"day":422,"val":0.26,"depth":"−0.77m","run":"sim"},{"day":428,"val":0.226,"depth":"−0.77m","run":"sim"},{"day":433,"val":0.2,"depth":"−0.77m","run":"sim"},{"day":439,"val":0.17,"depth":"−0.77m","run":"sim"},{"day":445,"val":0.138,"depth":"−0.77m","run":"sim"},{"day":451,"val":0.102,"depth":"−0.77m","run":"sim"},{"day":457,"val":0.089,"depth":"−0.77m","run":"sim"},{"day":463,"val":0.078,"depth":"−0.77m","run":"sim"},{"day":471,"val":0.076,"depth":"−0.77m","run":"sim"},{"day":484,"val":0.076,"depth":"−0.77m","run":"sim"},{"day":490,"val":0.075,"depth":"−0.77m","run":"sim"},{"day":500,"val":0.069,"depth":"−0.77m","run":"sim"},

      {"day":250.8,"val":0.085,"depth":"−1m","run":"obs"},{"day":259.5,"val":0.088,"depth":"−1m","run":"obs"},{"day":272.7,"val":0.092,"depth":"−1m","run":"obs"},{"day":273.5,"val":0.098,"depth":"−1m","run":"obs"},{"day":285.8,"val":0.102,"depth":"−1m","run":"obs"},{"day":294.5,"val":0.106,"depth":"−1m","run":"obs"},{"day":303.2,"val":0.112,"depth":"−1m","run":"obs"},{"day":307.6,"val":0.121,"depth":"−1m","run":"obs"},{"day":310.2,"val":0.148,"depth":"−1m","run":"obs"},{"day":312,"val":0.19,"depth":"−1m","run":"obs"},{"day":313.3,"val":0.237,"depth":"−1m","run":"obs"},{"day":313.7,"val":0.257,"depth":"−1m","run":"obs"},{"day":315,"val":0.288,"depth":"−1m","run":"obs"},{"day":316.4,"val":0.303,"depth":"−1m","run":"obs"},{"day":320.7,"val":0.311,"depth":"−1m","run":"obs"},{"day":326.8,"val":0.323,"depth":"−1m","run":"obs"},{"day":329.5,"val":0.33,"depth":"−1m","run":"obs"},{"day":337.3,"val":0.334,"depth":"−1m","run":"obs"},{"day":351.1,"val":0.334,"depth":"−1m","run":"obs"},{"day":366.9,"val":0.336,"depth":"−1m","run":"obs"},{"day":377.4,"val":0.332,"depth":"−1m","run":"obs"},{"day":394.8,"val":0.326,"depth":"−1m","run":"obs"},{"day":397.5,"val":0.33,"depth":"−1m","run":"obs"},{"day":403.6,"val":0.326,"depth":"−1m","run":"obs"},{"day":407.1,"val":0.324,"depth":"−1m","run":"obs"},{"day":412.3,"val":0.319,"depth":"−1m","run":"obs"},{"day":415.8,"val":0.315,"depth":"−1m","run":"obs"},{"day":420.2,"val":0.307,"depth":"−1m","run":"obs"},{"day":424.6,"val":0.299,"depth":"−1m","run":"obs"},{"day":433.3,"val":0.28,"depth":"−1m","run":"obs"},{"day":442.1,"val":0.261,"depth":"−1m","run":"obs"},{"day":446.4,"val":0.245,"depth":"−1m","run":"obs"},{"day":450.8,"val":0.226,"depth":"−1m","run":"obs"},{"day":454.3,"val":0.206,"depth":"−1m","run":"obs"},{"day":456.9,"val":0.175,"depth":"−1m","run":"obs"},{"day":459.5,"val":0.144,"depth":"−1m","run":"obs"},{"day":463,"val":0.113,"depth":"−1m","run":"obs"},{"day":467.4,"val":0.098,"depth":"−1m","run":"obs"},{"day":472.7,"val":0.096,"depth":"−1m","run":"obs"},{"day":485.8,"val":0.096,"depth":"−1m","run":"obs"},{"day":494.5,"val":0.091,"depth":"−1m","run":"obs"},{"day":500,"val":0.086,"depth":"−1m","run":"obs"},

      {"day":250.8,"val":0.094,"depth":"−1m","run":"sim"},{"day":260,"val":0.1,"depth":"−1m","run":"sim"},{"day":270,"val":0.104,"depth":"−1m","run":"sim"},{"day":280,"val":0.106,"depth":"−1m","run":"sim"},{"day":292,"val":0.113,"depth":"−1m","run":"sim"},{"day":299.8,"val":0.125,"depth":"−1m","run":"sim"},{"day":305,"val":0.137,"depth":"−1m","run":"sim"},{"day":311,"val":0.16,"depth":"−1m","run":"sim"},{"day":314,"val":0.178,"depth":"−1m","run":"sim"},{"day":317.5,"val":0.195,"depth":"−1m","run":"sim"},{"day":320,"val":0.25,"depth":"−1m","run":"sim"},{"day":322.5,"val":0.3,"depth":"−1m","run":"sim"},{"day":323.8,"val":0.365,"depth":"−1m","run":"sim"},{"day":327,"val":0.375,"depth":"−1m","run":"sim"},{"day":332,"val":0.355,"depth":"−1m","run":"sim"},{"day":337,"val":0.37,"depth":"−1m","run":"sim"},{"day":341.5,"val":0.412,"depth":"−1m","run":"sim"},{"day":348,"val":0.413,"depth":"−1m","run":"sim"},{"day":354,"val":0.42,"depth":"−1m","run":"sim"},{"day":360,"val":0.412,"depth":"−1m","run":"sim"},{"day":366,"val":0.42,"depth":"−1m","run":"sim"},{"day":370.5,"val":0.39,"depth":"−1m","run":"sim"},{"day":375,"val":0.357,"depth":"−1m","run":"sim"},{"day":381,"val":0.335,"depth":"−1m","run":"sim"},{"day":388,"val":0.31,"depth":"−1m","run":"sim"},{"day":394,"val":0.287,"depth":"−1m","run":"sim"},{"day":400,"val":0.266,"depth":"−1m","run":"sim"},{"day":406,"val":0.25,"depth":"−1m","run":"sim"},{"day":412,"val":0.24,"depth":"−1m","run":"sim"},{"day":419,"val":0.226,"depth":"−1m","run":"sim"},{"day":426,"val":0.217,"depth":"−1m","run":"sim"},{"day":433,"val":0.2,"depth":"−1m","run":"sim"},{"day":439,"val":0.182,"depth":"−1m","run":"sim"},{"day":445,"val":0.162,"depth":"−1m","run":"sim"},{"day":451,"val":0.135,"depth":"−1m","run":"sim"},{"day":457,"val":0.1,"depth":"−1m","run":"sim"},{"day":464,"val":0.088,"depth":"−1m","run":"sim"},{"day":471,"val":0.082,"depth":"−1m","run":"sim"},{"day":484,"val":0.081,"depth":"−1m","run":"sim"},{"day":491,"val":0.08,"depth":"−1m","run":"sim"},{"day":500,"val":0.078,"depth":"−1m","run":"sim"},

      {"day":250.8,"val":0.095,"depth":"−1.14m","run":"obs"},{"day":259.5,"val":0.098,"depth":"−1.14m","run":"obs"},{"day":268.3,"val":0.103,"depth":"−1.14m","run":"obs"},{"day":277,"val":0.105,"depth":"−1.14m","run":"obs"},{"day":279.5,"val":0.094,"depth":"−1.14m","run":"obs"},{"day":280.5,"val":0.105,"depth":"−1.14m","run":"obs"},{"day":285.8,"val":0.107,"depth":"−1.14m","run":"obs"},{"day":286.7,"val":0.098,"depth":"−1.14m","run":"obs"},{"day":287.5,"val":0.107,"depth":"−1.14m","run":"obs"},{"day":292.8,"val":0.107,"depth":"−1.14m","run":"obs"},{"day":293.6,"val":0.1,"depth":"−1.14m","run":"obs"},{"day":294.5,"val":0.107,"depth":"−1.14m","run":"obs"},{"day":299.8,"val":0.107,"depth":"−1.14m","run":"obs"},{"day":300.5,"val":0.104,"depth":"−1.14m","run":"obs"},{"day":306.7,"val":0.117,"depth":"−1.14m","run":"obs"},{"day":308,"val":0.11,"depth":"−1.14m","run":"obs"},{"day":310.2,"val":0.133,"depth":"−1.14m","run":"obs"},{"day":313.7,"val":0.148,"depth":"−1.14m","run":"obs"},{"day":320.7,"val":0.171,"depth":"−1.14m","run":"obs"},{"day":325.1,"val":0.191,"depth":"−1.14m","run":"obs"},{"day":329.5,"val":0.202,"depth":"−1.14m","run":"obs"},{"day":333.8,"val":0.22,"depth":"−1.14m","run":"obs"},{"day":338,"val":0.233,"depth":"−1.14m","run":"obs"},{"day":344.1,"val":0.241,"depth":"−1.14m","run":"obs"},{"day":354.6,"val":0.243,"depth":"−1.14m","run":"obs"},{"day":364.2,"val":0.241,"depth":"−1.14m","run":"obs"},{"day":366,"val":0.249,"depth":"−1.14m","run":"obs"},{"day":368.6,"val":0.243,"depth":"−1.14m","run":"obs"},{"day":377.4,"val":0.229,"depth":"−1.14m","run":"obs"},{"day":386.1,"val":0.223,"depth":"−1.14m","run":"obs"},{"day":394.8,"val":0.215,"depth":"−1.14m","run":"obs"},{"day":397,"val":0.21,"depth":"−1.14m","run":"obs"},{"day":398.3,"val":0.257,"depth":"−1.14m","run":"obs"},{"day":401,"val":0.222,"depth":"−1.14m","run":"obs"},{"day":408,"val":0.214,"depth":"−1.14m","run":"obs"},{"day":416.7,"val":0.206,"depth":"−1.14m","run":"obs"},{"day":424.6,"val":0.198,"depth":"−1.14m","run":"obs"},{"day":433.3,"val":0.191,"depth":"−1.14m","run":"obs"},{"day":442.1,"val":0.179,"depth":"−1.14m","run":"obs"},{"day":450.8,"val":0.167,"depth":"−1.14m","run":"obs"},{"day":455.2,"val":0.16,"depth":"−1.14m","run":"obs"},{"day":459.5,"val":0.144,"depth":"−1.14m","run":"obs"},{"day":463.9,"val":0.129,"depth":"−1.14m","run":"obs"},{"day":465.2,"val":0.113,"depth":"−1.14m","run":"obs"},{"day":466.5,"val":0.125,"depth":"−1.14m","run":"obs"},{"day":472.7,"val":0.117,"depth":"−1.14m","run":"obs"},{"day":481.4,"val":0.115,"depth":"−1.14m","run":"obs"},{"day":492.8,"val":0.109,"depth":"−1.14m","run":"obs"},{"day":494.1,"val":0.096,"depth":"−1.14m","run":"obs"},{"day":495.4,"val":0.109,"depth":"−1.14m","run":"obs"},{"day":500,"val":0.104,"depth":"−1.14m","run":"obs"},

      {"day":250.8,"val":0.1,"depth":"−1.14m","run":"sim"},{"day":270,"val":0.1,"depth":"−1.14m","run":"sim"},{"day":280,"val":0.102,"depth":"−1.14m","run":"sim"},{"day":285.8,"val":0.115,"depth":"−1.14m","run":"sim"},{"day":295,"val":0.113,"depth":"−1.14m","run":"sim"},{"day":303.2,"val":0.117,"depth":"−1.14m","run":"sim"},{"day":310.2,"val":0.137,"depth":"−1.14m","run":"sim"},{"day":312.5,"val":0.152,"depth":"−1.14m","run":"sim"},{"day":317,"val":0.17,"depth":"−1.14m","run":"sim"},{"day":323,"val":0.19,"depth":"−1.14m","run":"sim"},{"day":329,"val":0.22,"depth":"−1.14m","run":"sim"},{"day":334.5,"val":0.26,"depth":"−1.14m","run":"sim"},{"day":335.6,"val":0.272,"depth":"−1.14m","run":"sim"},{"day":337.2,"val":0.36,"depth":"−1.14m","run":"sim"},{"day":338.2,"val":0.39,"depth":"−1.14m","run":"sim"},{"day":341,"val":0.42,"depth":"−1.14m","run":"sim"},{"day":348,"val":0.423,"depth":"−1.14m","run":"sim"},{"day":355,"val":0.423,"depth":"−1.14m","run":"sim"},{"day":362,"val":0.423,"depth":"−1.14m","run":"sim"},{"day":368,"val":0.42,"depth":"−1.14m","run":"sim"},{"day":370,"val":0.418,"depth":"−1.14m","run":"sim"},{"day":373,"val":0.38,"depth":"−1.14m","run":"sim"},{"day":375.5,"val":0.33,"depth":"−1.14m","run":"sim"},{"day":380,"val":0.28,"depth":"−1.14m","run":"sim"},{"day":386.4,"val":0.255,"depth":"−1.14m","run":"sim"},{"day":392,"val":0.24,"depth":"−1.14m","run":"sim"},{"day":400,"val":0.222,"depth":"−1.14m","run":"sim"},{"day":408,"val":0.212,"depth":"−1.14m","run":"sim"},{"day":414,"val":0.205,"depth":"−1.14m","run":"sim"},{"day":420,"val":0.2,"depth":"−1.14m","run":"sim"},{"day":427,"val":0.193,"depth":"−1.14m","run":"sim"},{"day":433,"val":0.187,"depth":"−1.14m","run":"sim"},{"day":439,"val":0.175,"depth":"−1.14m","run":"sim"},{"day":445,"val":0.164,"depth":"−1.14m","run":"sim"},{"day":451,"val":0.148,"depth":"−1.14m","run":"sim"},{"day":457,"val":0.128,"depth":"−1.14m","run":"sim"},{"day":464,"val":0.1,"depth":"−1.14m","run":"sim"},{"day":471,"val":0.094,"depth":"−1.14m","run":"sim"},{"day":490,"val":0.094,"depth":"−1.14m","run":"sim"},{"day":500,"val":0.094,"depth":"−1.14m","run":"sim"}
    ]
  },
  "vconcat": [
    {
      "width": 951,
      "height": 190,
      "data": {"name": "temp"},
      "layer": [
        {
          "mark": {"type": "rule", "stroke": "#000", "strokeDash": [1, 3], "strokeWidth": 1},
          "encoding": {"y": {"datum": 0, "type": "quantitative", "scale": {"domain": [-10, 10], "nice": false}, "axis": null}}
        },
        {
          "mark": {"type": "line", "strokeWidth": 1.3},
          "encoding": {
            "x": {"field": "day", "type": "quantitative", "scale": {"domain": [250.8, 500], "nice": false, "zero": false},
              "axis": {"orient": "bottom", "values": [255,260,265,270,275,280,285,290,295,300,305,310,315,320,325,330,335,340,345,350,355,360,365,370,375,380,385,390,395,400,405,410,415,420,425,430,435,440,445,450,455,460,465,470,475,480,485,490,495,500],
                "tickSize": {"expr": "datum.value % 50 === 0 ? -9 : -5"}, "labelExpr": "datum.value % 50 === 0 ? datum.label : ''",
                "labelPadding": 20, "title": "Time [days]", "titlePadding": 4}},
            "y": {"field": "val", "type": "quantitative", "scale": {"domain": [-10, 10], "nice": false},
              "axis": {"orient": "left", "values": [-10,-8,-6,-4,-2,0,2,4,6,8,10],
                "tickSize": {"expr": "datum.value % 10 === 0 ? -9 : -5"}, "labelExpr": "datum.value % 10 === 0 ? datum.label : ''",
                "labelPadding": 11, "title": "T [°C]", "titleX": -60}},
            "color": {"field": "depth", "type": "nominal",
              "scale": {"domain": ["−0.41m", "−0.77m", "−1m", "−1.14m"], "range": ["#0000ff", "#00ff00", "#ff0000", "#00ffff"]},
              "legend": {"orient": "none", "legendX": 168, "legendY": 143, "direction": "horizontal", "columns": 4, "title": null,
                "symbolSize": 4356, "clipHeight": 31, "symbolOffset": 11, "labelOffset": 7, "columnPadding": 0}},
            "strokeDash": {"field": "run", "type": "nominal", "scale": {"domain": ["obs", "sim"], "range": [[1, 0], [12, 7]]}, "legend": null}
          }
        },
        {
          "mark": {"type": "line", "opacity": 0},
          "encoding": {
            "x": {"field": "day", "type": "quantitative", "scale": {"domain": [250.8, 500], "nice": false, "zero": false},
              "axis": {"orient": "top", "values": [255,260,265,270,275,280,285,290,295,300,305,310,315,320,325,330,335,340,345,350,355,360,365,370,375,380,385,390,395,400,405,410,415,420,425,430,435,440,445,450,455,460,465,470,475,480,485,490,495,500],
                "tickSize": {"expr": "datum.value % 50 === 0 ? -9 : -5"}, "labels": false, "title": null}},
            "y": {"field": "val", "type": "quantitative", "scale": {"domain": [-10, 10], "nice": false},
              "axis": {"orient": "right", "values": [-10,-8,-6,-4,-2,0,2,4,6,8,10],
                "tickSize": {"expr": "datum.value % 10 === 0 ? -9 : -5"}, "labels": false, "title": null}},
            "detail": {"field": "depth"}
          }
        }
      ],
      "resolve": {"axis": {"x": "independent", "y": "independent"}}
    },
    {
      "width": 951,
      "height": 190,
      "data": {"name": "theta"},
      "layer": [
        {
          "mark": {"type": "line", "strokeWidth": 1.3},
          "encoding": {
            "x": {"field": "day", "type": "quantitative", "scale": {"domain": [250.8, 500], "nice": false, "zero": false},
              "axis": {"orient": "bottom", "values": [255,260,265,270,275,280,285,290,295,300,305,310,315,320,325,330,335,340,345,350,355,360,365,370,375,380,385,390,395,400,405,410,415,420,425,430,435,440,445,450,455,460,465,470,475,480,485,490,495,500],
                "tickSize": {"expr": "datum.value % 50 === 0 ? -9 : -5"}, "labels": false, "title": null}},
            "y": {"field": "val", "type": "quantitative", "scale": {"domain": [0, 0.44], "nice": false},
              "axis": {"orient": "left", "values": [0, 0.2, 0.4], "tickSize": -9, "labelPadding": 11,
                "labelExpr": "datum.value === 0 ? '0' : format(datum.value, '.1f')", "title": "θₗ [−]", "titleX": -60}},
            "color": {"field": "depth", "type": "nominal",
              "scale": {"domain": ["−0.41m", "−0.77m", "−1m", "−1.14m"], "range": ["#0000ff", "#00ff00", "#ff0000", "#00ffff"]},
              "legend": {"orient": "none", "legendX": 784, "legendY": -61, "direction": "vertical", "title": null,
                "symbolSize": 4450, "clipHeight": 36, "rowPadding": 1.5, "symbolOffset": 10, "labelOffset": 7}},
            "strokeDash": {"field": "run", "type": "nominal", "scale": {"domain": ["obs", "sim"], "range": [[1, 0], [12, 7]]}, "legend": null}
          }
        },
        {
          "mark": {"type": "line", "opacity": 0},
          "encoding": {
            "x": {"field": "day", "type": "quantitative", "scale": {"domain": [250.8, 500], "nice": false, "zero": false},
              "axis": {"orient": "top", "values": [255,260,265,270,275,280,285,290,295,300,305,310,315,320,325,330,335,340,345,350,355,360,365,370,375,380,385,390,395,400,405,410,415,420,425,430,435,440,445,450,455,460,465,470,475,480,485,490,495,500],
                "tickSize": {"expr": "datum.value % 50 === 0 ? -9 : -5"}, "labels": false, "title": null}},
            "y": {"field": "val", "type": "quantitative", "scale": {"domain": [0, 0.44], "nice": false},
              "axis": {"orient": "right", "values": [0, 0.2, 0.4], "tickSize": -9, "labels": false, "title": null}},
            "detail": {"field": "depth"}
          }
        }
      ],
      "resolve": {"axis": {"x": "independent", "y": "independent"}}
    }
  ]
}
